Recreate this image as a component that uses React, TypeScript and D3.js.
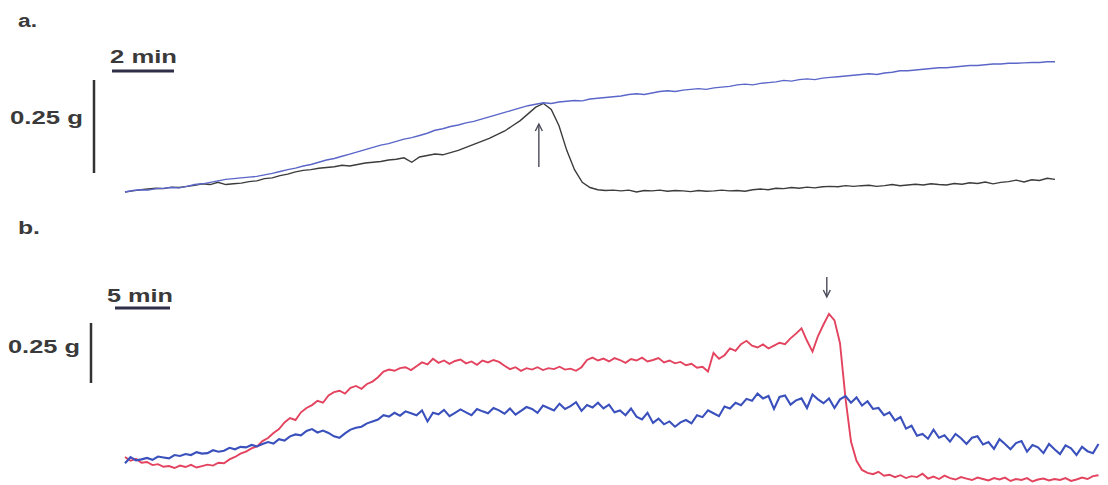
import React from "react";
import * as d3 from "d3";

// ---------- Panel a (2 min / 0.25 g), samples every 0.25 min, force in mg ----------
const stepA = 0.25;
const blueA = [
  0, 4, 6, 5, 9, 10, 12, 11, 15, 20, 22, 26, 30, 34, 36, 38, 40, 42, 46, 50,
  55, 60, 64, 70, 74, 80, 86, 90, 96, 102, 108, 114, 120, 126, 130, 136, 142, 146, 152, 158,
  166, 170, 176, 180, 186, 190, 196, 202, 208, 214, 220, 226, 232, 236, 240, 238, 242, 244, 246, 245,
  250, 252, 254, 256, 258, 262, 264, 262, 266, 270, 272, 270, 274, 276, 278, 276, 280, 282, 284, 288,
  290, 288, 292, 294, 296, 300, 298, 302, 304, 302, 306, 308, 310, 312, 314, 316, 318, 316, 320, 322,
  326, 326, 328, 330, 332, 334, 334, 336, 338, 340, 340, 342, 344, 344, 346, 346, 347, 348, 348, 350,
  350,
];
const blackA = [
  0, 3, 6, 8, 10, 9, 13, 12, 15, 18, 22, 20, 26, 20, 22, 24, 28, 30, 36, 38,
  44, 48, 54, 58, 60, 64, 66, 68, 72, 70, 74, 78, 80, 82, 86, 88, 92, 80, 94, 98,
  102, 100, 106, 112, 120, 128, 136, 144, 154, 164, 178, 192, 210, 228, 238, 222, 178, 112, 60, 26,
  12, 6, 4, 5, 3, 5, 0, 4, 3, 5, 2, 4, 3, 1, 4, 2, 3, 5, 3, 4,
  2, 6, 8, 6, 10, 9, 12, 10, 13, 11, 14, 15, 14, 17, 15, 17, 18, 15, 17, 20,
  17, 19, 21, 19, 22, 20, 19, 23, 21, 25, 23, 27, 22, 26, 28, 32, 27, 33, 31, 37,
  34,
];
const arrowATime = 13.35;

// ---------- Panel b (5 min / 0.25 g), samples every 0.5 min, force in mg ----------
const stepB = 0.5;
const redB = [
  96, 80, 88, 72, 75, 62, 66, 55, 58, 50, 60, 54, 63, 52, 58, 64, 60, 72, 70, 86,
  96, 110, 118, 132, 140, 162, 175, 196, 212, 240, 258, 250, 282, 300, 312, 330, 322, 352, 366, 372,
  360, 384, 392, 380, 400, 410, 428, 452, 460, 455, 466, 470, 458, 474, 490, 482, 505, 488, 498, 484,
  496, 502, 486, 494, 480, 498, 490, 500, 492, 476, 462, 470, 455, 466, 460, 470, 458, 466, 462, 472,
  460, 464, 455, 470, 500, 510, 498, 506, 494, 508, 500, 488, 504, 498, 510, 494, 500, 508, 490, 498,
  486, 492, 478, 484, 468, 472, 452, 530, 505, 520, 548, 538, 566, 580, 560, 552, 565, 548, 560, 572,
  566, 590, 610, 632, 580, 535, 600, 648, 692, 665, 570, 340, 160, 80, 42, 30, 24, 34, 18, 22,
  12, 20, 8, 16, 12, 26, 6, 14, 4, 18, 8, 2, 12, 6, 0, 10, 4, -2, 8, 2,
  10, -4, 4, 0, 8, -6, 2, 6, -2, 4, 0, 8, -4, 2, 10, 4, 16, 20,
];
const blueB = [
  70, 95, 82, 86, 92, 84, 98, 94, 90,
  104, 100, 108, 104, 116, 110, 112, 124, 118, 122, 134,
  128, 138, 136, 146, 140, 150, 158, 152, 170, 164, 182, 190,
  186, 204, 212, 198, 206, 196, 182, 176,
  194, 210, 218, 222, 236, 244, 252, 270, 264, 280, 268, 286,
  278, 270, 290, 244, 280, 274, 292, 266,
  280, 294, 282, 270, 296, 286, 278, 300, 290, 276,
  298, 272, 288, 304, 296, 280, 310, 300, 290, 318,
  296, 308, 324, 288, 312, 302, 322, 298, 314, 282,
  290, 270, 298, 264, 252, 280, 238, 256, 232, 244,
  222, 240, 250, 236, 270, 262, 290, 278, 266, 306,
  298, 322, 312, 338, 330, 360, 340, 350, 296, 346,
  352, 314, 332, 340, 300, 356, 336, 320, 340, 300,
  336, 350, 322, 344, 310, 328, 296, 300, 270, 282,
  248, 262, 214, 226, 184, 192, 172, 210, 176, 186,
  160, 192, 174, 150, 176, 182, 148, 158, 130, 170,
  150, 128, 154, 162, 118, 146, 136, 112, 150, 128,
  108, 144, 132, 104, 138, 120, 112, 150,
];
const arrowBTime = 63.8;

// labels
const panelLabels = ["a.", "b."];
const timeBarLabels = ["2 min", "5 min"];
const timeBarMinutes = [2, 5];
const forceBarLabel = "0.25 g";
const forceBarMg = 250;

const W = 1108;
const H = 485;

type Pt = [number, number];
const toPts = (vals: number[], step: number): Pt[] => vals.map((v, i) => [i * step, v]);

export default function App() {
  // scales panel a
  const xA = d3.scaleLinear().domain([0, 30]).range([125, 1055]);
  const yA = d3.scaleLinear().domain([0, 250]).range([192, 99]);
  // scales panel b
  const xB = d3.scaleLinear().domain([0, 88.5]).range([125, 1098.5]);
  const yB = d3.scaleLinear().domain([0, 250]).range([480, 420]);

  const lineA = d3.line<Pt>().x((d) => xA(d[0])).y((d) => yA(d[1]));
  const lineB = d3.line<Pt>().x((d) => xB(d[0])).y((d) => yB(d[1]));

  const textStyle: React.CSSProperties = {
    fontFamily: "Liberation Sans, Arial, sans-serif",
    fontWeight: 700,
    fill: "#3a3a3a",
  };

  // scale bar geometry
  const tbA0 = 112;
  const tbAW = xA(timeBarMinutes[0]) - xA(0);
  const tbB0 = 115;
  const tbBW = xB(timeBarMinutes[1]) - xB(0);
  const fbAH = yA(0) - yA(forceBarMg);
  const fbBH = yB(0) - yB(forceBarMg);

  const axA = xA(arrowATime);
  const axB = xB(arrowBTime);

  return (
    <svg
      width={W}
      height={H}
      style={{ position: "absolute", left: 0, top: 0, background: "#fff" }}
    >
      <rect x={0} y={0} width={W} height={H} fill="#fff" />
      {/* Panel a */}
      <text x={18} y={27} fontSize={18} textLength={19} lengthAdjust="spacingAndGlyphs" style={textStyle}>
        {panelLabels[0]}
      </text>
      <text x={110} y={63} fontSize={18} textLength={67} lengthAdjust="spacingAndGlyphs" style={textStyle}>
        {timeBarLabels[0]}
      </text>
      <line x1={tbA0} x2={tbA0 + tbAW} y1={71} y2={71} stroke="#2e2e48" strokeWidth={3} />
      <text x={10} y={124} fontSize={18} textLength={73} lengthAdjust="spacingAndGlyphs" style={textStyle}>
        {forceBarLabel}
      </text>
      <line x1={94} x2={94} y1={80} y2={80 + fbAH} stroke="#333" strokeWidth={2.5} />

      <path d={lineA(toPts(blackA, stepA)) || ""} fill="none" stroke="#3c3c3c" strokeWidth={1.4} />
      <path d={lineA(toPts(blueA, stepA)) || ""} fill="none" stroke="#5a66c8" strokeWidth={1.4} />

      {/* arrow a (up) */}
      <line x1={axA} x2={axA} y1={167} y2={125} stroke="#4a4a5a" strokeWidth={1.4} />
      <path
        d={`M${axA - 3.5},${131} L${axA},${124} L${axA + 3.5},${131}`}
        fill="none"
        stroke="#4a4a5a"
        strokeWidth={1.4}
      />

      {/* Panel b */}
      <text x={18} y={234} fontSize={18} textLength={22} lengthAdjust="spacingAndGlyphs" style={textStyle}>
        {panelLabels[1]}
      </text>
      <text x={107} y={302} fontSize={18} textLength={66} lengthAdjust="spacingAndGlyphs" style={textStyle}>
        {timeBarLabels[1]}
      </text>
      <line x1={tbB0} x2={tbB0 + tbBW} y1={308} y2={308} stroke="#2e2e48" strokeWidth={3} />
      <text x={8} y={353} fontSize={18} textLength={72} lengthAdjust="spacingAndGlyphs" style={textStyle}>
        {forceBarLabel}
      </text>
      <line x1={91} x2={91} y1={323} y2={323 + fbBH} stroke="#333" strokeWidth={2.5} />

      <path d={lineB(toPts(redB, stepB)) || ""} fill="none" stroke="#e3435e" strokeWidth={1.9} />
      <path d={lineB(toPts(blueB, stepB)) || ""} fill="none" stroke="#3a50bc" strokeWidth={2.1} />

      {/* arrow b (down) */}
      <line x1={axB} x2={axB} y1={277} y2={296} stroke="#4a4a5a" strokeWidth={1.4} />
      <path
        d={`M${axB - 3.5},${290} L${axB},${297} L${axB + 3.5},${290}`}
        fill="none"
        stroke="#4a4a5a"
        strokeWidth={1.4}
      />
    </svg>
  );
}
